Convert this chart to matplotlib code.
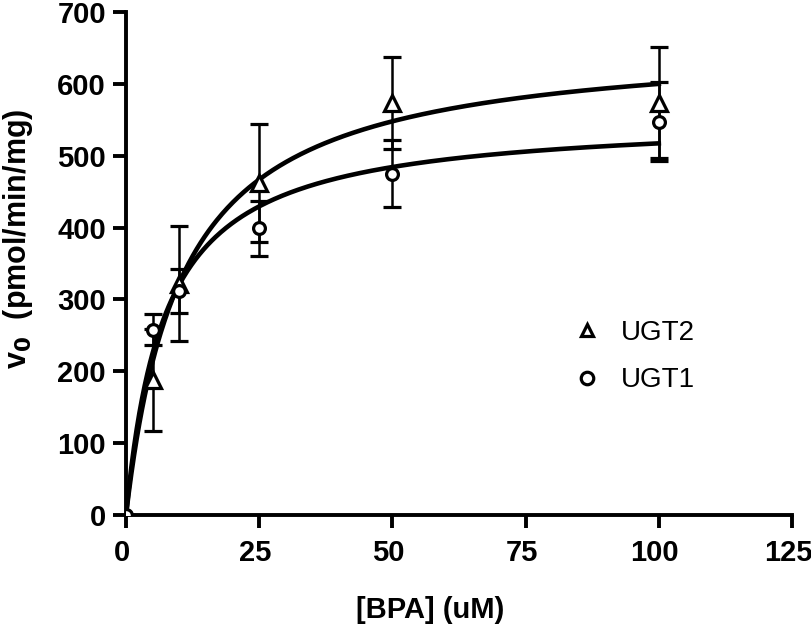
import matplotlib
matplotlib.use("Agg")
import matplotlib.pyplot as plt
import matplotlib.transforms as mtransforms
import numpy as np

plt.rcParams['font.family'] = ['Liberation Sans', 'DejaVu Sans']

conc = [0, 5, 10, 25, 50, 100]
ugt2_v = [0, 188, 322, 462, 573, 574]
ugt2_err = [0, 71, 80, 82, 64, 77]
ugt1_v = [0, 258, 312, 399, 475, 547]
ugt1_err = [0, 22, 31, 38, 47, 55]
# Michaelis-Menten fit parameters (Vmax, Km)
ugt2_fit = (663, 10.5)
ugt1_fit = (555, 7.3)

fig = plt.figure(figsize=(8.11, 6.33), dpi=100)
ax = fig.add_axes([0.1554, 0.1864, 0.9766 - 0.1554, 0.981 - 0.1864])

xs = np.linspace(0, 100, 400)
for vmax, km in (ugt2_fit, ugt1_fit):
    ax.plot(xs, vmax * xs / (km + xs), color='black', lw=3.3, zorder=3)

ax.errorbar(conc, ugt2_v, yerr=ugt2_err, fmt='^', mfc='white', mec='black',
            ms=11, mew=2.3, ecolor='black', elinewidth=1.8, capsize=6.5, capthick=1.8,
            label='UGT2', zorder=4)
ax.errorbar(conc, ugt1_v, yerr=ugt1_err, fmt='o', mfc='white', mec='black',
            ms=8.5, mew=2.3, ecolor='black', elinewidth=1.8, capsize=6.5, capthick=1.8,
            label='UGT1', zorder=4)

ax.set_xlim(0, 125)
ax.set_ylim(0, 700)
ax.set_xticks([0, 25, 50, 75, 100, 125])
ax.set_yticks(range(0, 701, 100))
for s in ['top', 'right']:
    ax.spines[s].set_visible(False)
for s in ['left', 'bottom']:
    ax.spines[s].set_linewidth(2.8)
ax.tick_params(width=2.8, length=9.5, labelsize=21)
ax.tick_params(axis='x', pad=8)
ax.tick_params(axis='y', pad=5)
for lab in ax.get_xticklabels() + ax.get_yticklabels():
    lab.set_fontweight('bold')
for lab in ax.get_xticklabels():
    lab.set_transform(lab.get_transform() + mtransforms.ScaledTranslation(-4/100, 0, fig.dpi_scale_trans))

ax.set_xlabel('[BPA] (uM)', fontsize=21, fontweight='bold')
ax.xaxis.set_label_coords(0.456, -0.162)
ax.set_ylabel('v$_\\mathbf{0}$  (pmol/min/mg)', fontsize=22, fontweight='bold')
ax.yaxis.set_label_coords(-0.136, 0.55)

h, l = ax.get_legend_handles_labels()
h = [hh[0] for hh in h]
leg = ax.legend(h, l, loc='center left', bbox_to_anchor=(0.671, 0.315), frameon=False,
                fontsize=20, handletextpad=0.72, labelspacing=0.78, handlelength=1.0,
                borderpad=0, borderaxespad=0)
for hh in leg.legend_handles:
    hh.set_markersize(9)

fig.savefig('out.png', dpi=100)
